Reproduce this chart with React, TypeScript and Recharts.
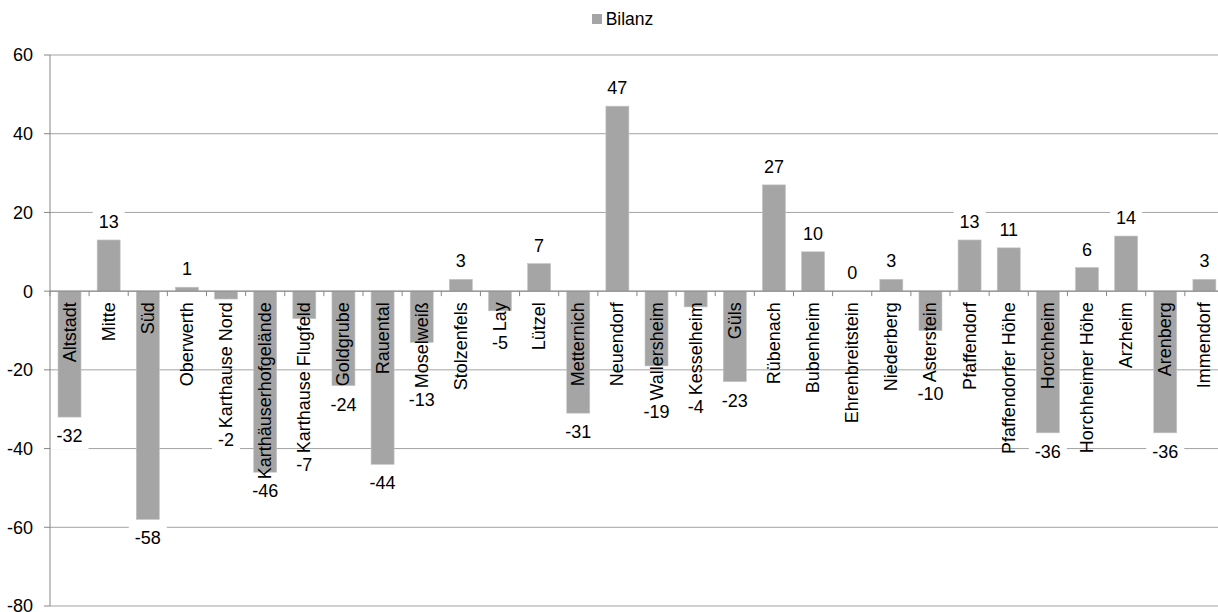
import React from 'react';
import { BarChart, Bar, XAxis, YAxis, CartesianGrid, Legend, ReferenceLine } from 'recharts';

const categories = [
  'Altstadt', 'Mitte', 'Süd', 'Oberwerth', 'Karthause Nord', 'Karthäuserhofgelände',
  'Karthause Flugfeld', 'Goldgrube', 'Rauental', 'Moselweiß', 'Stolzenfels', 'Lay',
  'Lützel', 'Metternich', 'Neuendorf', 'Wallersheim', 'Kesselheim', 'Güls',
  'Rübenach', 'Bubenheim', 'Ehrenbreitstein', 'Niederberg', 'Asterstein', 'Pfaffendorf',
  'Pfaffendorfer Höhe', 'Horchheim', 'Horchheimer Höhe', 'Arzheim', 'Arenberg', 'Immendorf',
];
const bilanz = [
  -32, 13, -58, 1, -2, -46,
  -7, -24, -44, -13, 3, -5,
  7, -31, 47, -19, -4, -23,
  27, 10, 0, 3, -10, 13,
  11, -36, 6, 14, -36, 3,
];
const yTicks = [-80, -60, -40, -20, 0, 20, 40, 60];
const seriesName = 'Bilanz';

const data = categories.map((name, i) => ({ name, Bilanz: bilanz[i] }));

const CHART_W = 1226;
const CHART_H = 612;
const MARGIN = { top: 25, right: 2, bottom: 6, left: 0 };
const Y_W = 50;
const PLOT_W = CHART_W - MARGIN.left - MARGIN.right - Y_W;
const BAND = PLOT_W / categories.length;
const FONT = "'Liberation Sans', Arial, sans-serif";
const FS = 18;
const BAR_FILL = '#a5a5a5';
const AXIS = '#868686';
const GRID = '#a3a3a3';

let ctx: CanvasRenderingContext2D | null = null;
function measure(t: string): number {
  if (!ctx) {
    const c = document.createElement('canvas');
    ctx = c.getContext('2d');
  }
  if (!ctx) return t.length * FS * 0.55;
  ctx.font = `${FS}px 'Liberation Sans'`;
  return ctx.measureText(t).width;
}

function BarShape(props: any) {
  const { x, y, width, height, payload } = props;
  if (x == null || y == null) return null;
  const v: number = payload.Bilanz;
  const h = height || 0;
  const top = Math.min(y, y + h);
  const bottom = Math.max(y, y + h);
  const zero = v >= 0 ? bottom : top;
  const barEnd = v >= 0 ? top : bottom;
  const cx = x + width / 2;
  const nameW = measure(payload.name);
  const textStart = zero + 11;
  const textEnd = textStart + nameW;
  const labelY = v >= 0 ? barEnd - 18 : Math.max(barEnd + 19, textEnd + 12);
  const valStr = String(v);
  const valW = measure(valStr);
  const bandLeft = x - (BAND - width) / 2;
  return (
    <g>
      <rect x={x} y={top} width={width} height={bottom - top} fill={BAR_FILL} stroke="#c4c4c4" strokeWidth={0.6} />
      <line x1={bandLeft} x2={bandLeft} y1={zero} y2={zero + 5} stroke={AXIS} strokeWidth={1} />
      <rect x={cx - valW / 2 - 6} y={labelY - 13} width={valW + 12} height={26} fill="#ffffff" />
      <text x={cx} y={labelY} textAnchor="middle" dominantBaseline="central" fontSize={FS} fontFamily={FONT} fill="#000">
        {valStr}
      </text>
      <text
        transform={`translate(${cx},${textStart}) rotate(-90)`}
        textAnchor="end"
        dominantBaseline="central"
        fontSize={FS}
        fontFamily={FONT}
        fill="#000"
      >
        {payload.name}
      </text>
    </g>
  );
}

function LegendContent(props: any) {
  const payload = props.payload || [];
  return (
    <div style={{ display: 'flex', justifyContent: 'center', height: 30, alignItems: 'center', paddingLeft: 19, fontFamily: FONT }}>
      {payload.map((p: any) => (
        <div key={p.value} style={{ display: 'flex', alignItems: 'center' }}>
          <div style={{ width: 10, height: 10, background: BAR_FILL, marginRight: 4 }} />
          <span style={{ fontSize: 17.5, color: '#000' }}>{p.value}</span>
        </div>
      ))}
    </div>
  );
}

export default function App() {
  return (
    <div style={{ position: 'absolute', left: 0, top: 0, width: 1218, height: 612, overflow: 'hidden', background: '#fff', fontFamily: FONT }}>
      <BarChart width={CHART_W} height={CHART_H} data={data} margin={MARGIN} barCategoryGap="20.5%">
        <CartesianGrid vertical={false} stroke={GRID} />
        <XAxis dataKey="name" hide />
        <YAxis
          width={Y_W}
          domain={[-80, 60]}
          ticks={yTicks}
          interval={0}
          tickSize={6}
          tickMargin={11}
          tickLine={{ stroke: AXIS }}
          axisLine={{ stroke: AXIS }}
          tick={{ fontSize: FS, fill: '#000', fontFamily: FONT }}
        />
        <Legend
          verticalAlign="top"
          content={<LegendContent />}
          wrapperStyle={{ top: 4, left: 0, width: CHART_W, height: 30 }}
        />
        <Bar dataKey="Bilanz" name={seriesName} fill={BAR_FILL} isAnimationActive={false} shape={<BarShape />} />
        <ReferenceLine y={0} stroke={AXIS} strokeWidth={1} />
      </BarChart>
    </div>
  );
}
